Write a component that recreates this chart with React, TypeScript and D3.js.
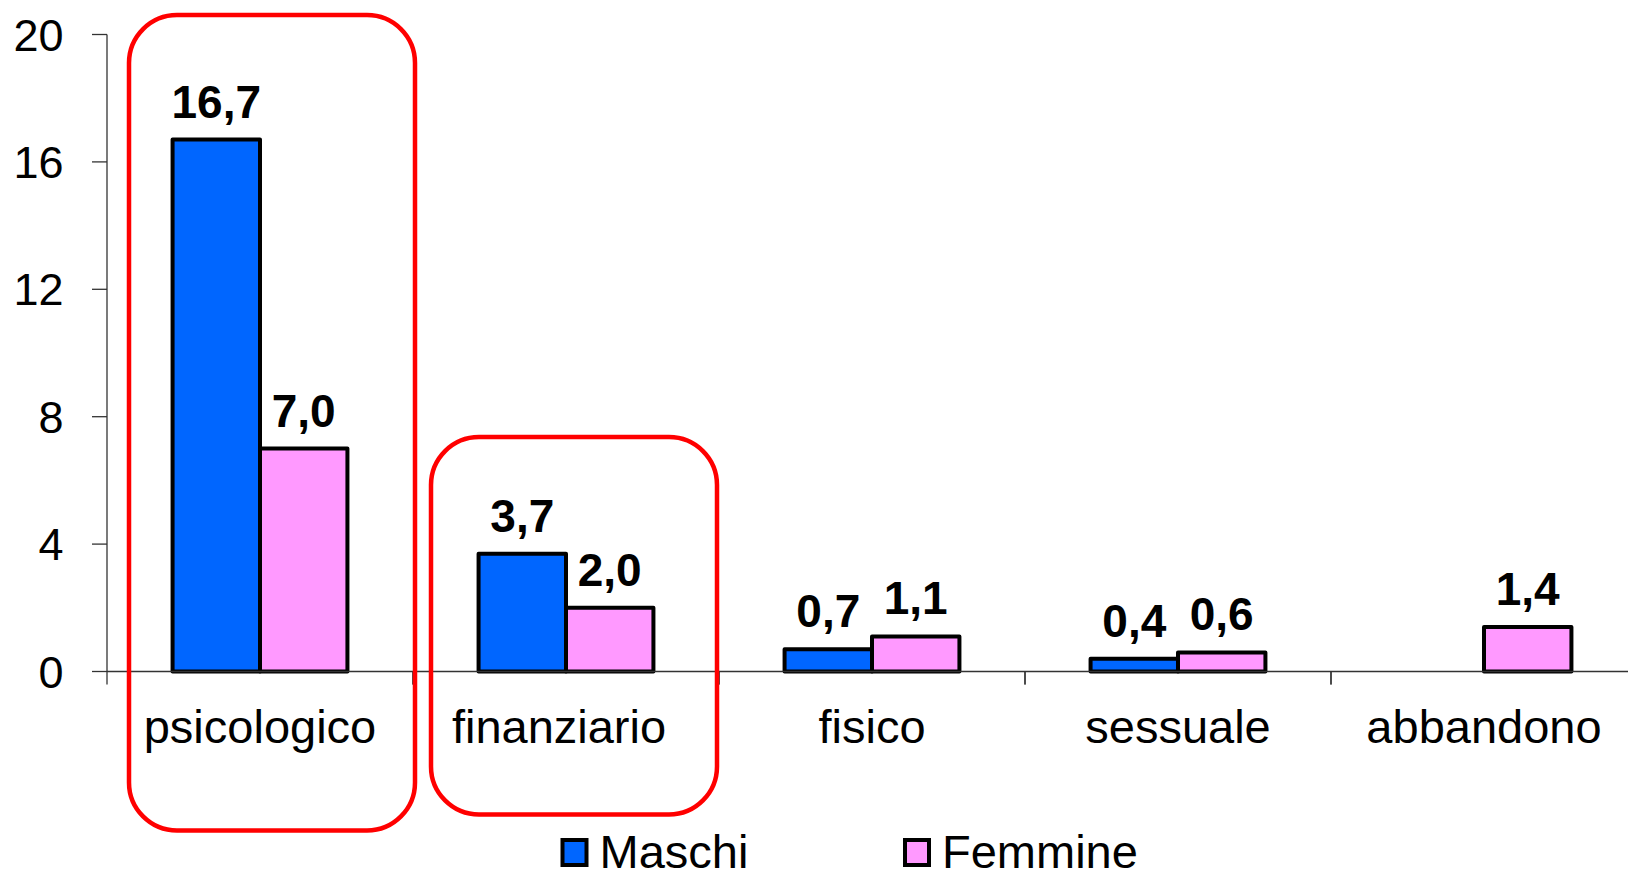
import React from "react";
import * as d3 from "d3";

const categories = ["psicologico", "finanziario", "fisico", "sessuale", "abbandono"];
const seriesNames = ["Maschi", "Femmine"];
const maschi: (number | null)[] = [16.7, 3.7, 0.7, 0.4, null];
const femmine: (number | null)[] = [7.0, 2.0, 1.1, 0.6, 1.4];
const yTicks = [0, 4, 8, 12, 16, 20];
const seriesColors = ["#0066FF", "#FF99FF"];
const highlighted = ["psicologico", "finanziario"];

const W = 1628;
const H = 872;
const FONT = "'Liberation Sans', Arial, Helvetica, sans-serif";

export default function App() {
  const left = 107;
  const step = 306;
  const x = d3.scaleBand<string>().domain(categories).range([left, left + step * categories.length]).padding(0);
  const xs = d3.scaleBand<string>().domain(seriesNames).range([0, x.bandwidth()]).paddingInner(0).paddingOuter(0.75);
  const y = d3.scaleLinear().domain([0, 20]).range([671.5, 34.5]);
  const series = [maschi, femmine];
  const fmt = (v: number) => v.toFixed(1).replace(".", ",");
  const labelShift: Record<string, number> = { finanziario: -7 };

  // highlight boxes (annotation), offsets relative to category band
  const boxSpecs = [
    { cat: highlighted[0], dx0: 22, dx1: 2, top: 15, bottom: 830.5 },
    { cat: highlighted[1], dx0: 18, dx1: -2, top: 437, bottom: 814.5 },
  ];

  return (
    <svg width={W} height={H} style={{ position: "absolute", left: 0, top: 0, background: "#fff" }} fontFamily={FONT}>
      <rect x={0} y={0} width={W} height={H} fill="#fff" />
      {/* y axis */}
      <line x1={left} x2={left} y1={y(20)} y2={y(0)} stroke="#333" strokeWidth={1.3} />
      {yTicks.map((t) => (
        <g key={t}>
          <line x1={left - 15} x2={left} y1={y(t)} y2={y(t)} stroke="#333" strokeWidth={1.3} />
          <text x={63.5} y={y(t) + 16} textAnchor="end" fontSize={45} fill="#000">
            {t}
          </text>
        </g>
      ))}
      {/* bars */}
      {categories.map((c, i) =>
        series.map((s, k) => {
          const v = s[i];
          if (v == null) return null;
          const x0 = (x(c) as number) + (xs(seriesNames[k]) as number);
          const bw = xs.bandwidth();
          return (
            <g key={c + k}>
              <rect
                x={x0}
                y={y(v)}
                width={bw}
                height={y(0) - y(v)}
                fill={seriesColors[k]}
                stroke="#000"
                strokeWidth={4}
                strokeLinejoin="round"
              />
              <text x={x0 + bw / 2} y={y(v) - 22} textAnchor="middle" fontSize={46} fontWeight="bold" fill="#000">
                {fmt(v)}
              </text>
            </g>
          );
        })
      )}
      {/* x axis */}
      <line x1={left} x2={W} y1={y(0)} y2={y(0)} stroke="#333" strokeWidth={1.3} />
      {categories.map((c) => (
        <line key={c} x1={x(c) as number} x2={x(c) as number} y1={y(0)} y2={y(0) + 13} stroke="#333" strokeWidth={1.3} />
      ))}
      {categories.map((c, i) => {
        const xx = left + step * (i + 1);
        return <line key={"e" + i} x1={xx} x2={xx} y1={y(0)} y2={y(0) + 13} stroke="#333" strokeWidth={1.3} />;
      })}
      {categories.map((c) => (
        <text
          key={"l" + c}
          x={(x(c) as number) + x.bandwidth() / 2 + (labelShift[c] || 0)}
          y={743}
          textAnchor="middle"
          fontSize={47}
          fill="#000"
        >
          {c}
        </text>
      ))}
      {/* highlight boxes */}
      {boxSpecs.map((b) => {
        const bx0 = (x(b.cat) as number) + b.dx0;
        const bx1 = (x(b.cat) as number) + x.bandwidth() + b.dx1;
        return (
          <rect
            key={"box" + b.cat}
            x={bx0}
            y={b.top}
            width={bx1 - bx0}
            height={b.bottom - b.top}
            rx={48}
            ry={48}
            fill="none"
            stroke="#FF0000"
            strokeWidth={4.5}
          />
        );
      })}
      {/* legend */}
      {seriesNames.map((n, k) => {
        const lx = [562.5, 905][k];
        return (
          <g key={"lg" + n}>
            <rect x={lx} y={840} width={24} height={25} fill={seriesColors[k]} stroke="#000" strokeWidth={4} />
            <text x={lx + 37} y={868} fontSize={47} fill="#000">
              {n}
            </text>
          </g>
        );
      })}
    </svg>
  );
}
